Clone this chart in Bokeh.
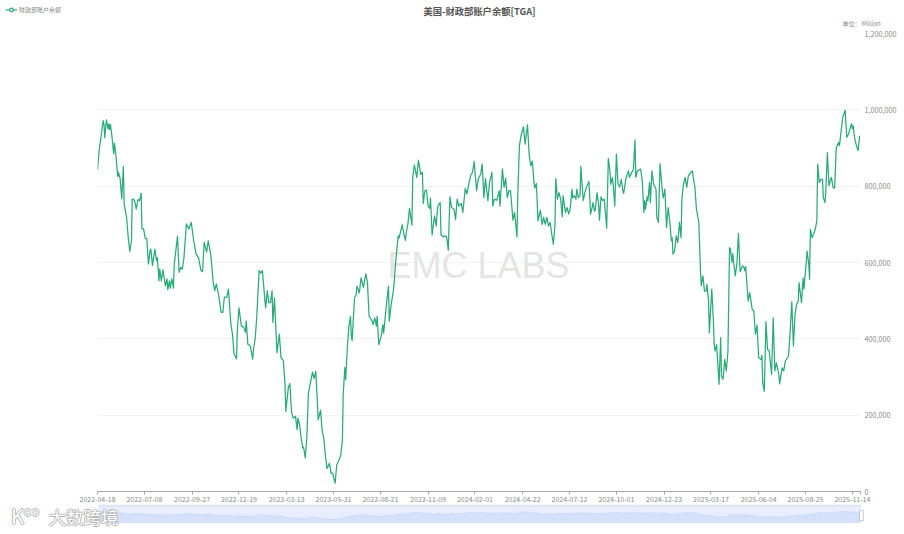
from bokeh.embed import file_html
from bokeh.resources import INLINE
from bokeh.plotting import figure
from bokeh.layouts import column
from bokeh.models import (Range1d, FixedTicker, NumeralTickFormatter, Legend, LegendItem, Label)

CJK = "Noto Sans CJK SC"

chart_title = "美国-财政部账户余额[TGA]"
series_name = "财政部账户余额"
unit_text = "单位： Million"
brand_text = "EMC LABS"
source_text = "大数跨境"

tick_days = [0, 58, 117, 175, 234, 292, 350, 409, 467, 526, 584, 642, 701, 759, 818, 876, 934, 944]
tick_labels = ["2022-04-18", "2022-07-08", "2022-09-27", "2022-12-19", "2023-03-13", "2023-05-31",
               "2023-08-21", "2023-11-09", "2024-02-01", "2024-04-22", "2024-07-12", "2024-10-01",
               "2024-12-23", "2025-03-17", "2025-06-04", "2025-08-25", "2025-11-14", ""]
y_ticks = [0, 200000, 400000, 600000, 800000, 1000000, 1200000]

tga_day = [
    0, 2, 4, 7, 8, 9, 11, 13, 14, 15, 16, 18, 20, 21, 23, 25, 26, 28, 30, 32, 33, 36, 38, 40, 42, 43, 45, 47, 48, 50,
    52, 54, 55, 57, 59, 61, 63, 65, 66, 68, 71, 73, 74, 76, 77, 79, 81, 84, 86, 87, 89, 90, 92, 94, 95, 99, 101, 103, 105, 107,
    110, 113, 116, 119, 122, 125, 128, 130, 132, 135, 137, 140, 143, 145, 147, 150, 153, 155, 157, 160, 162, 165, 167, 169, 172, 173, 175, 178, 181, 183,
    184, 186, 189, 192, 193, 195, 197, 200, 202, 204, 207, 208, 210, 212, 214, 216, 217, 219, 222, 225, 227, 230,
    232, 233, 236, 238, 240, 242, 245, 247, 248, 250, 252, 254, 255, 257, 259, 261, 263, 266, 268, 270, 272, 273, 276, 278,
    280, 282, 284, 287, 289, 291, 292, 294, 296, 299, 301, 303, 304, 306, 307, 309, 311, 313, 314, 315, 318, 320, 321, 324,
    326, 329, 332, 334, 336, 339, 341, 343, 345, 346, 348, 351, 353, 354, 358, 360, 361, 363, 366, 367, 369,
    372, 373, 375, 377, 379, 381, 382, 384, 386, 389, 390, 392, 395, 397, 400, 402, 403, 405, 407, 409, 411, 412, 414, 417,
    419, 421, 424, 425, 428, 430, 432, 434, 436, 438, 441, 443, 445, 447, 450, 452, 455, 457, 460, 462, 464, 466, 469, 471, 474,
    476, 478, 480, 483, 485, 488, 489, 491, 494, 497, 498, 501, 503, 505, 507, 509, 511, 514, 516, 519, 520, 522, 524, 527, 529,
    532, 534, 536, 538, 540, 541, 543, 545, 548, 550, 552, 554, 556, 558, 560, 562, 564, 566, 567, 569, 571, 573, 575, 576, 579, 581, 583, 585,
    587, 588, 590, 592, 593, 595, 597, 598, 601, 603, 605, 608, 610, 612, 613, 615, 616, 618, 620, 621, 623, 625, 627, 630, 632, 634,
    635, 637, 638, 640, 642, 644, 646, 648, 650, 651, 654, 657, 658, 661, 663, 665, 666, 668, 672, 674, 676, 677, 678, 680, 681, 683, 684, 686, 688, 691,
    692, 694, 696, 699, 700, 702, 704, 706, 708, 710, 711, 712, 714, 716, 718, 720, 722, 723, 725, 727, 729, 731, 734, 736, 738, 739, 741, 744, 746, 747,
    749, 751, 753, 754, 756, 757, 760, 762, 763, 764, 766, 769, 771, 772, 774, 776, 778, 780, 782,
    783, 785, 786, 789, 791, 793, 795, 798, 800, 801, 802, 805, 807, 810, 812, 814, 816, 818, 821, 822, 823, 825, 827, 829, 831, 834, 836, 838, 840, 843,
    844, 847, 849, 851, 855, 857, 859, 861, 863, 865, 867, 868, 871, 873, 874, 876, 878, 880, 881, 882, 884, 886, 888, 890, 891, 893, 895, 897, 898, 900,
    901, 903, 905, 907, 908, 910, 912, 914, 917, 918, 920, 922, 925, 927, 929, 931, 933, 934, 935, 937, 939, 941, 943,
]
tga_thousands = [
    843, 893, 924, 972, 962, 927, 974, 950, 963, 948, 962, 928, 885, 913, 876, 825, 836, 819, 767, 852, 753, 718, 666, 629, 657, 767, 765, 753, 740, 765,
    762, 781, 688, 688, 664, 662, 596, 631, 635, 592, 635, 605, 613, 552, 583, 552, 581, 539, 557, 529, 552, 533, 557, 533, 596, 669, 574, 587, 583, 613,
    701, 688, 705, 657, 622, 613, 579, 576, 653, 627, 657, 622, 552, 526, 544, 513, 469, 469, 509, 509, 530, 439, 412, 360, 347, 421, 481, 434, 430, 417,
    447, 386, 382, 347, 373, 399, 456, 579, 572, 579, 504, 481, 526, 495, 495, 526, 443, 507, 364, 412, 351, 342,
    280, 210, 271, 283, 210, 192, 197, 162, 192, 175, 140, 114, 116, 88, 140, 258, 280, 313, 296, 315, 236, 188, 213, 158,
    140, 92, 60, 74, 48, 48, 39, 22, 70, 83, 96, 136, 254, 325, 293, 372, 433, 459, 407, 395, 507, 516, 538, 520,
    560, 535, 570, 547, 459, 450, 437, 455, 433, 459, 385, 407, 437, 415, 500, 538, 446, 485, 525, 547, 604,
    670, 664, 681, 699, 674, 658, 678, 700, 742, 698, 823, 856, 823, 868, 831, 836, 755, 788, 790, 748, 742, 769, 672, 722,
    696, 748, 757, 672, 667, 670, 667, 632, 772, 744, 740, 713, 766, 748, 755, 731, 795, 779, 812, 830, 836, 865, 788, 818, 831,
    858, 770, 820, 762, 810, 836, 748, 766, 763, 788, 748, 845, 797, 821, 770, 788, 788, 711, 731, 667, 779, 906, 932, 956, 910,
    961, 884, 853, 866, 810, 795, 807, 709, 737, 700, 718, 700, 718, 696, 705, 674, 648, 700, 820, 766, 783, 766, 720, 775, 731, 744, 727, 744,
    792, 769, 775, 766, 792, 770, 775, 852, 762, 783, 798, 812, 727, 744, 757, 734, 740, 783, 753, 711, 772, 762, 766, 690, 873, 840,
    805, 823, 805, 748, 884, 805, 798, 818, 788, 781, 823, 840, 823, 836, 845, 921, 823, 840, 845, 814, 731, 762, 740, 772, 762, 810, 757, 840, 805, 792,
    718, 705, 859, 783, 769, 792, 692, 744, 709, 657, 665, 622, 630, 670, 652, 705, 665, 766, 805, 823, 797, 827, 836, 840, 810, 801, 740, 705, 578, 539,
    565, 525, 525, 543, 499, 416, 530, 447, 385, 368, 385, 281, 403, 302, 294, 346, 316, 368, 639,
    637, 600, 623, 565, 595, 676, 576, 591, 587, 578, 589, 499, 521, 477, 473, 412, 436, 351, 346, 357, 285, 263, 445, 372, 368, 307, 455, 316, 337, 307,
    282, 324, 316, 342, 355, 420, 497, 381, 464, 490, 499, 547, 495, 560, 530, 578, 630, 595, 556, 687, 665, 674, 687, 709, 858, 810, 818, 818, 770, 757,
    783, 888, 801, 818, 823, 797, 795, 901, 915, 906, 945, 980, 999, 928, 936, 950, 964, 950, 958, 923, 906, 893, 932,
]
tga_value = [v * 1000 for v in tga_thousands]

LINE = "#2aab78"
GRID = "#f1f3f3"
TXT = "#8a8a8a"

# header strip: title, legend, unit
head = figure(width=904, height=28, output_backend="svg", toolbar_location=None, tools="",
              x_range=Range1d(0, 904), y_range=Range1d(28, 0), min_border=0, frame_align=False,
              outline_line_color=None, border_fill_color="white")
head.axis.visible = False
head.grid.visible = False
head.add_layout(Label(x=479, y=10, text=chart_title, text_font=CJK, text_font_size="9.3px",
                      text_font_style="bold", text_color="#555555", text_align="center", text_baseline="middle"))
head.add_layout(Label(x=842, y=22.5, text=unit_text, text_font=CJK, text_font_size="6px",
                      text_color=TXT, text_align="left", text_baseline="middle"))
# legend key: the renderers sit outside the visible strip, only their legend glyphs show
key_line = head.line([-40, -20], [-40, -40], line_color=LINE, line_width=1.2)
key_dot = head.scatter([-30], [-40], size=7, fill_color="white", line_color=LINE, line_width=1.2)
head.add_layout(Legend(items=[LegendItem(label=series_name, renderers=[key_line, key_dot])],
                       location=(5, 14), padding=0, margin=0, spacing=0,
                       border_line_color=None, background_fill_alpha=0,
                       label_text_font=CJK, label_text_font_size="6px", label_text_color=TXT,
                       glyph_width=12, glyph_height=9, label_standoff=2, label_height=9))

# main chart
p = figure(width=904, height=475, output_backend="svg", toolbar_location=None, tools="",
           x_range=Range1d(0, 944), y_range=Range1d(0, 1200000), y_axis_location="right",
           min_border_left=97, min_border_right=44, min_border_top=5, min_border_bottom=12, frame_align=False,
           outline_line_color=None, background_fill_color="white", border_fill_color="white")
p.frame_width = 763
p.frame_height = 458

p.xgrid.visible = False
p.ygrid.grid_line_color = GRID
p.ygrid.grid_line_width = 1
p.yaxis.ticker = FixedTicker(ticks=y_ticks)
p.yaxis.formatter = NumeralTickFormatter(format="0,0")
p.yaxis.axis_line_color = None
p.yaxis.major_tick_line_color = None
p.yaxis.minor_tick_line_color = None
p.yaxis.major_tick_in = 0
p.yaxis.major_tick_out = 0
p.yaxis.major_label_text_color = TXT
p.yaxis.major_label_text_font = CJK
p.yaxis.major_label_text_font_size = "7.2px"
p.yaxis.major_label_standoff = 4

p.xaxis.ticker = FixedTicker(ticks=tick_days)
p.xaxis.major_label_overrides = dict(zip(tick_days, tick_labels))
p.xaxis.axis_line_color = "#a8a8a8"
p.xaxis.major_tick_line_color = "#a8a8a8"
p.xaxis.major_tick_in = 0
p.xaxis.major_tick_out = 3
p.xaxis.minor_tick_line_color = None
p.xaxis.major_label_text_color = TXT
p.xaxis.major_label_text_font = CJK
p.xaxis.major_label_text_font_size = "7px"
p.xaxis.major_label_standoff = 1

p.add_layout(Label(x=471.5, y=593000, text=brand_text, text_font="Liberation Sans", text_font_size="36px",
                   text_color="#e5e5e5", text_align="center", text_baseline="middle", level="underlay"))
p.line(tga_day, tga_value, line_color=LINE, line_width=1.25, line_join="round")

# range-slider strip; the whole strip is the frame so the source mark can sit on it
DAY_PER_PX = 1.237
VAL_PER_PX = 120500
TOP_VAL = 1830000


def sx(px):
    return (px - 97) * DAY_PER_PX


def sy(px):
    return TOP_VAL - (px - 503) * VAL_PER_PX


mini = figure(width=904, height=31, output_backend="svg", toolbar_location=None, tools="",
              x_range=Range1d(sx(0), sx(904)), y_range=Range1d(sy(534), sy(503)), min_border=0, frame_align=False,
              outline_line_color=None, background_fill_color="white", border_fill_color="white")
mini.axis.visible = False
mini.grid.visible = False
mini.quad(left=[sx(98)], right=[sx(860.7)], bottom=[sy(521.6)], top=[sy(503)],
          fill_color="#e8eeff", line_color=None)
mini.varea(tga_day, [sy(521.6)] * len(tga_day), tga_value, fill_color="#d5e0fb")
mini.line(tga_day, tga_value, line_color="#c5d2f2", line_width=0.6)
mini.quad(left=[sx(98)], right=[sx(860.7)], bottom=[sy(505.5)], top=[sy(503)],
          fill_color="#e1e6f1", line_color=None)
mini.quad(left=[sx(859)], right=[sx(862.7)], bottom=[sy(519)], top=[sy(509)],
          fill_color="white", line_color="#c4c9d4", line_width=1)


def outlined(fig, x, y, text, size):
    for dx, dy in [(-1, 0), (1, 0), (0, -1), (0, 1)]:
        fig.add_layout(Label(x=sx(x + dx), y=sy(y + dy), text=text, text_font=CJK, text_font_size=size,
                             text_color="#b5b5b5", text_baseline="middle", text_align="center"))
    fig.add_layout(Label(x=sx(x), y=sy(y), text=text, text_font=CJK, text_font_size=size,
                         text_color="#ffffff", text_baseline="middle", text_align="center"))


outlined(mini, 17, 514, "K", "20px")
outlined(mini, 31, 510, "∞", "15px")
outlined(mini, 83, 515, source_text, "17.5px")

layout = column(head, p, mini, spacing=0)
open("out.html", "w").write(file_html(layout, INLINE))
